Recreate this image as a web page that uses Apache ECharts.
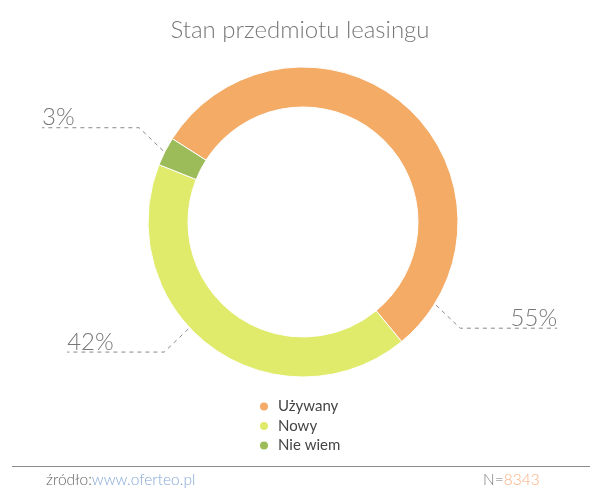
<!DOCTYPE html>
<html>
<head>
<meta charset="utf-8">
<script src="https://cdn.jsdelivr.net/npm/echarts@6/dist/echarts.min.js"></script>
<style>
  html, body { margin: 0; padding: 0; background: #fff; }
  #chart { width: 600px; height: 500px; }
</style>
</head>
<body>
<div id="chart"></div>
<script>
// ---- data ----
const categories = ['Używany', 'Nowy', 'Nie wiem'];
const values = [55, 42, 3];
const sampleSize = '8343';
const sourceLabel = 'źródło:';
const sourceSite = 'www.oferteo.pl';
const titleText = 'Stan przedmiotu leasingu';

// ---- style / layout ----
const colors = ['#F4AB66', '#E0EB6C', '#9CBB59'];
const CX = 303, CY = 222;
const labelAnchorAngles = [-32, -137, 153]; // degrees, where each label line leaves the ring
const LINE_R = 157, ELBOW_X = 24, ELBOW_Y = 23, LEG = 97;

const chart = echarts.init(document.getElementById('chart'));

function labelLayout(params) {
  const a = labelAnchorAngles[params.dataIndex] * Math.PI / 180;
  const sx = Math.cos(a) >= 0 ? 1 : -1;
  const sy = Math.sin(a) >= 0 ? -1 : 1;
  const p0 = [CX + LINE_R * Math.cos(a), CY - LINE_R * Math.sin(a)];
  const p1 = [p0[0] + sx * ELBOW_X, p0[1] + sy * ELBOW_Y];
  const p2 = [p1[0] + sx * LEG, p1[1]];
  return {
    x: p2[0],
    y: p2[1] + 2,
    align: sx > 0 ? 'right' : 'left',
    verticalAlign: 'bottom',
    labelLinePoints: [p0, p1, p2]
  };
}

chart.setOption({
  backgroundColor: '#fff',
  color: colors,
  title: {
    text: titleText,
    left: 'center',
    top: 13,
    textStyle: { fontFamily: 'Lato', fontWeight: 300, fontSize: 24, color: '#777' }
  },
  legend: {
    orient: 'vertical',
    left: 253,
    top: 394,
    itemWidth: 10,
    itemHeight: 10,
    itemGap: 4.5,
    icon: 'circle',
    data: categories,
    textStyle: { fontFamily: 'Lato', fontSize: 15, color: '#444', padding: [0, 0, 0, 4] }
  },
  graphic: [
    {
      type: 'line',
      shape: { x1: 12, y1: 466.5, x2: 590, y2: 466.5 },
      style: { stroke: '#8c8c8c', lineWidth: 1 },
      silent: true
    },
    {
      type: 'text',
      left: 46,
      top: 472,
      style: {
        text: '{a|' + sourceLabel + '}{b|' + sourceSite + '}',
        rich: {
          a: { fontFamily: 'Lato', fontWeight: 300, fontSize: 15.5, fill: '#666' },
          b: { fontFamily: 'Lato', fontWeight: 300, fontSize: 15.5, fill: '#86A8D6' }
        },
        font: '300 15.5px Lato',
        fill: '#666'
      }
    },
    {
      type: 'text',
      left: 483,
      top: 472,
      style: {
        text: '{a|N=}{b|' + sampleSize + '}',
        rich: {
          a: { fontFamily: 'Lato', fontWeight: 300, fontSize: 15.5, fill: '#777' },
          b: { fontFamily: 'Lato', fontWeight: 300, fontSize: 15.5, fill: '#F7B183' }
        },
        font: '300 15.5px Lato',
        fill: '#777'
      }
    }
  ],
  series: [{
    type: 'pie',
    center: [CX, CY],
    radius: [115, 155],
    startAngle: 147.5,
    clockwise: true,
    avoidLabelOverlap: false,
    itemStyle: { borderColor: '#fff', borderWidth: 1 },
    emphasis: { disabled: true },
    label: {
      show: true,
      position: 'outside',
      formatter: '{c}%',
      fontFamily: 'Lato',
      fontWeight: 300,
      fontSize: 24,
      color: '#777'
    },
    labelLine: {
      show: true,
      length: 20,
      length2: 80,
      lineStyle: { color: '#888', width: 1, type: [4, 4] }
    },
    labelLayout: labelLayout,
    data: categories.map((c, i) => ({ name: c, value: values[i] }))
  }]
});
</script>
</body>
</html>
